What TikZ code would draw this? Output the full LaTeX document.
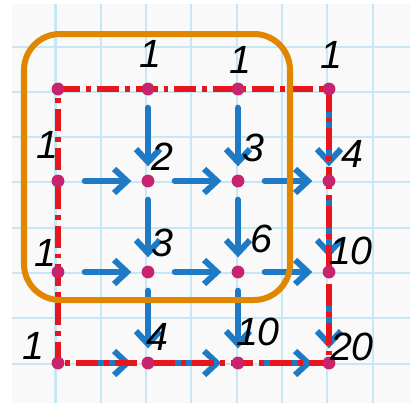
\documentclass[tikz,border=0pt]{standalone}
\usepackage{fontspec}
\setsansfont{Liberation Sans}
\usepackage{xcolor}
\usetikzlibrary{arrows.meta}
\definecolor{paperbg}{RGB}{249, 249, 249}
\definecolor{gridblue}{RGB}{200, 231, 245}
\definecolor{dotpink}{RGB}{200, 35, 110}
\definecolor{flowblue}{RGB}{30, 122, 196}
\definecolor{edgered}{RGB}{232, 22, 28}
\definecolor{frameorange}{RGB}{224, 134, 0}
\tikzset{
    gridline/.style={draw=gridblue, line width=0.05cm},
    dot/.style={circle, fill=dotpink, inner sep=0pt, minimum size=0.32cm},
    num/.style={font=\sffamily\itshape\fontsize{28}{30}\selectfont, text=black, inner sep=0pt},
    flow/.style={-{Straight Barb[length=0.32cm, width=0.6cm]}, line width=0.15cm, line cap=round, flowblue},
    hflow/.style={flow, shorten <=0.5cm, shorten >=0.25cm},
    vflow/.style={flow, shorten <=0.3cm, shorten >=0.2cm},
    border/.style={draw=edgered, line width=0.14cm, dash pattern=on 0.55cm off 0.15cm on 0.12cm off 0.15cm},
    frame/.style={draw=frameorange, line width=0.15cm, rounded corners=0.9cm}
}
\begin{document}
\begin{tikzpicture}[x=0.025cm, y=-0.025cm]
    \useasboundingbox (0,0) rectangle (410,403);
    % squared paper
    \fill[paperbg] (12,4) rectangle (410,403);
    \foreach \k in {0,...,7} {
        \draw[gridline] ({55.5+45.3*\k},4) -- ({55.5+45.3*\k},403);
        \draw[gridline] (12,{46.5+45.3*\k}) -- (410,{46.5+45.3*\k});
    }

    % lattice points
    \node[dot] (p00) at (58,89) {};  \node[dot] (p01) at (148,89) {};  \node[dot] (p02) at (238,89) {};  \node[dot] (p03) at (329,89) {};
    \node[dot] (p10) at (58,181) {}; \node[dot] (p11) at (148,181) {}; \node[dot] (p12) at (238,181) {}; \node[dot] (p13) at (329,181) {};
    \node[dot] (p20) at (58,272) {}; \node[dot] (p21) at (148,272) {}; \node[dot] (p22) at (238,272) {}; \node[dot] (p23) at (329,272) {};
    \node[dot] (p30) at (58,363) {}; \node[dot] (p31) at (148,363) {}; \node[dot] (p32) at (238,363) {}; \node[dot] (p33) at (329,363) {};

    % moves right and down
    \draw[hflow] (p10) -- (p11); \draw[hflow] (p11) -- (p12); \draw[hflow] (p12) -- (p13);
    \draw[hflow] (p20) -- (p21); \draw[hflow] (p21) -- (p22); \draw[hflow] (p22) -- (p23);
    \draw[hflow] (p30) -- (p31); \draw[hflow] (p31) -- (p32); \draw[hflow] (p32) -- (p33);
    \draw[vflow] (p01) -- (p11); \draw[vflow] (p11) -- (p21); \draw[vflow] (p21) -- (p31);
    \draw[vflow] (p02) -- (p12); \draw[vflow] (p12) -- (p22); \draw[vflow] (p22) -- (p32);
    \draw[vflow] (p03) -- (p13); \draw[vflow] (p13) -- (p23); \draw[vflow] (p23) -- (p33);

    \draw[border] (p00.center) -- (p03.center) -- (p33.center) -- (p30.center) -- cycle;
    \draw[frame] (24,34) rectangle (290,300);

    % redraw points on top
    \foreach \p in {p00,p01,p02,p03,p10,p11,p12,p13,p20,p21,p22,p23,p30,p31,p32,p33}
        \fill[dotpink] (\p) circle (6);

    % path counts
    \node[num] (n01) at (150,54) {1};  \node[num] (n02) at (240,60) {1};  \node[num] (n03) at (331,55) {1};
    \node[num] (n10) at (47,145) {1};  \node[num] (n11) at (162,157) {2}; \node[num] (n12) at (253,148) {3}; \node[num] (n13) at (352,154) {4};
    \node[num] (n20) at (45,253) {1};  \node[num] (n21) at (162,243) {3}; \node[num] (n22) at (261,239) {6}; \node[num] (n23) at (351,251) {10};
    \node[num] (n30) at (33,346) {1};  \node[num] (n31) at (157,337) {4}; \node[num] (n32) at (258,332) {10}; \node[num] (n33) at (352,347) {20};
\end{tikzpicture}
\end{document}
